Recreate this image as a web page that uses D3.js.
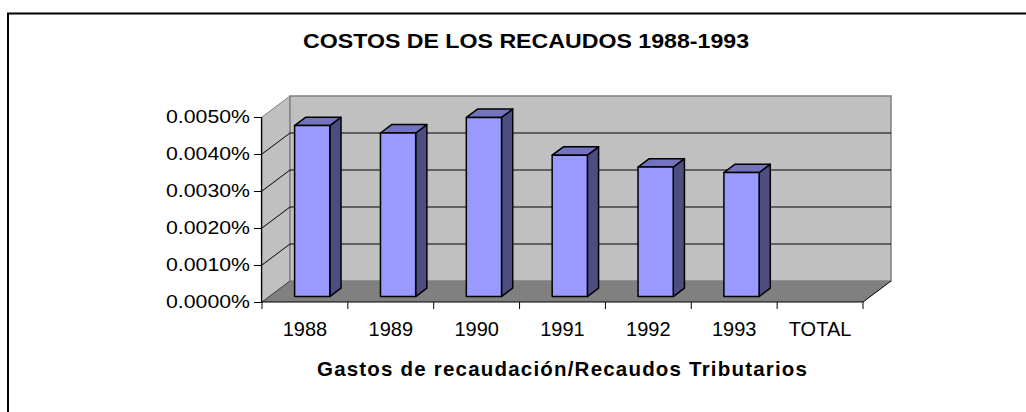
<!DOCTYPE html>
<html>
<head>
<meta charset="utf-8">
<script src="https://cdn.jsdelivr.net/npm/d3@7"></script>
<style>
  html, body { margin: 0; padding: 0; background: #fff; }
  svg { display: block; font-family: Arial, "Liberation Sans", sans-serif; }
</style>
</head>
<body>
<svg id="chart" width="1026" height="412"></svg>
<script>
const categories = ["1988", "1989", "1990", "1991", "1992", "1993", "TOTAL"];
const values = [0.00462, 0.00442, 0.00484, 0.00382, 0.00350, 0.00335, null]; // percent
const yTicks = [0, 0.001, 0.002, 0.003, 0.004, 0.005];
const titleText = "COSTOS DE LOS RECAUDOS 1988-1993";
const xTitleText = "Gastos de recaudación/Recaudos Tributarios";

const svg = d3.select("#chart");
const W = 1026, H = 412;

// frame (left and top border only visible)
svg.append("path")
  .attr("d", `M8,${H + 2} V13.5 H${W + 2}`)
  .attr("fill", "none").attr("stroke", "#000").attr("stroke-width", 2);

// plot geometry
const x0 = 262, x1 = 863, yBase = 302, yTop = 117;
const depth = { x: 28, y: -21 };
const x = d3.scaleBand().domain(categories).range([x0, x1]).padding(0);
const y = d3.scaleLinear().domain([0, 0.005]).range([yBase, yTop]);
const P = (px, py, f) => [px + depth.x * f, py + depth.y * f];
const poly = pts => "M" + pts.map(p => p.join(",")).join("L") + "Z";

const g = svg.append("g");

// side wall
g.append("path")
  .attr("d", poly([P(x0, y(0), 0), P(x0, y(0), 1), P(x0, y(0.005), 1), P(x0, y(0.005), 0)]))
  .attr("fill", "#c0c0c0").attr("stroke", "#808080").attr("stroke-width", 1);
// back wall
g.append("path")
  .attr("d", poly([P(x0, y(0), 1), P(x1, y(0), 1), P(x1, y(0.005), 1), P(x0, y(0.005), 1)]))
  .attr("fill", "#c0c0c0").attr("stroke", "#808080").attr("stroke-width", 1.5);
// gridlines
const inner = yTicks.filter(t => t > 0 && t < 0.005);
g.selectAll("line.grid").data(inner).join("line").attr("class", "grid")
  .attr("x1", P(x0, 0, 1)[0]).attr("x2", P(x1, 0, 1)[0])
  .attr("y1", d => P(0, y(d), 1)[1]).attr("y2", d => P(0, y(d), 1)[1])
  .attr("stroke", "#000").attr("stroke-width", 1);
g.selectAll("line.sgrid").data(inner).join("line").attr("class", "sgrid")
  .attr("x1", x0).attr("y1", d => y(d))
  .attr("x2", P(x0, 0, 1)[0]).attr("y2", d => P(0, y(d), 1)[1])
  .attr("stroke", "#000").attr("stroke-width", 1);
// floor
g.append("path")
  .attr("d", poly([P(x0, y(0), 0), P(x1, y(0), 0), P(x1, y(0), 1), P(x0, y(0), 1)]))
  .attr("fill", "#808080").attr("stroke", "none");
g.append("line")
  .attr("x1", x1).attr("y1", y(0))
  .attr("x2", P(x1, 0, 1)[0]).attr("y2", P(0, y(0), 1)[1])
  .attr("stroke", "#000").attr("stroke-width", 1);
g.append("line")
  .attr("x1", x0).attr("y1", y(0))
  .attr("x2", P(x0, 0, 1)[0]).attr("y2", P(0, y(0), 1)[1])
  .attr("stroke", "#404040").attr("stroke-width", 1);

// bars
const bw = x.bandwidth() * 0.41;
const f0 = 0.26, f1 = 0.66;
const bars = g.selectAll("g.bar")
  .data(categories.map((c, i) => ({ c, v: values[i] })).filter(d => d.v != null))
  .join("g").attr("class", "bar");
bars.each(function (d) {
  const el = d3.select(this);
  const L = x(d.c) + (x.bandwidth() - bw) / 2, R = L + bw;
  const yb = y(0), yt = y(d.v);
  const front = [P(L, yb, f0), P(R, yb, f0), P(R, yt, f0), P(L, yt, f0)];
  const side = [P(R, yb, f0), P(R, yb, f1), P(R, yt, f1), P(R, yt, f0)];
  const top = [P(L, yt, f0), P(R, yt, f0), P(R, yt, f1), P(L, yt, f1)];
  el.append("path").attr("d", poly(side)).attr("fill", "#4d4d80")
    .attr("stroke", "#000").attr("stroke-width", 1.5).attr("stroke-linejoin", "round");
  el.append("path").attr("d", poly(top)).attr("fill", "#7373c0")
    .attr("stroke", "#000").attr("stroke-width", 1.5).attr("stroke-linejoin", "round");
  el.append("path").attr("d", poly(front)).attr("fill", "#9999ff")
    .attr("stroke", "#000").attr("stroke-width", 1.5).attr("stroke-linejoin", "round");
});

// y axis
const yAxis = svg.append("g").attr("transform", `translate(${x0},0)`)
  .call(d3.axisLeft(y).tickValues(yTicks).tickSize(8).tickPadding(4)
    .tickFormat(d => d3.format(".4f")(d) + "%"));
yAxis.select(".domain").attr("stroke", "#000").attr("stroke-width", 1.2)
  .attr("d", `M-0.5,${yBase}V${yTop}`);
yAxis.selectAll(".tick line").attr("stroke", "#000");
yAxis.selectAll(".tick text")
  .attr("font-size", 18).attr("fill", "#000")
  .attr("font-family", "Arial, 'Liberation Sans', sans-serif")
  .attr("textLength", 84).attr("lengthAdjust", "spacingAndGlyphs");

// x axis
const xAxis = svg.append("g").attr("transform", `translate(0,${yBase})`);
xAxis.append("line").attr("x1", x0).attr("x2", x1).attr("y1", 0).attr("y2", 0)
  .attr("stroke", "#000").attr("stroke-width", 1.2);
const bounds = categories.map(c => x(c)).concat([x1]);
xAxis.selectAll("line.tk").data(bounds).join("line").attr("class", "tk")
  .attr("x1", d => d).attr("x2", d => d).attr("y1", 0).attr("y2", 7)
  .attr("stroke", "#000");
xAxis.selectAll("text").data(categories).join("text")
  .attr("x", d => x(d) + x.bandwidth() / 2).attr("y", 34)
  .attr("text-anchor", "middle").attr("font-size", 20).attr("fill", "#000")
  .text(d => d);

// titles
svg.append("text").attr("x", 526).attr("y", 48).attr("text-anchor", "middle")
  .attr("font-size", 20).attr("font-weight", "bold")
  .attr("textLength", 446).attr("lengthAdjust", "spacingAndGlyphs")
  .text(titleText);
svg.append("text").attr("x", 562).attr("y", 376).attr("text-anchor", "middle")
  .attr("font-size", 20.5).attr("font-weight", "bold")
  .attr("textLength", 490).attr("lengthAdjust", "spacing")
  .text(xTitleText);
</script>
</body>
</html>
